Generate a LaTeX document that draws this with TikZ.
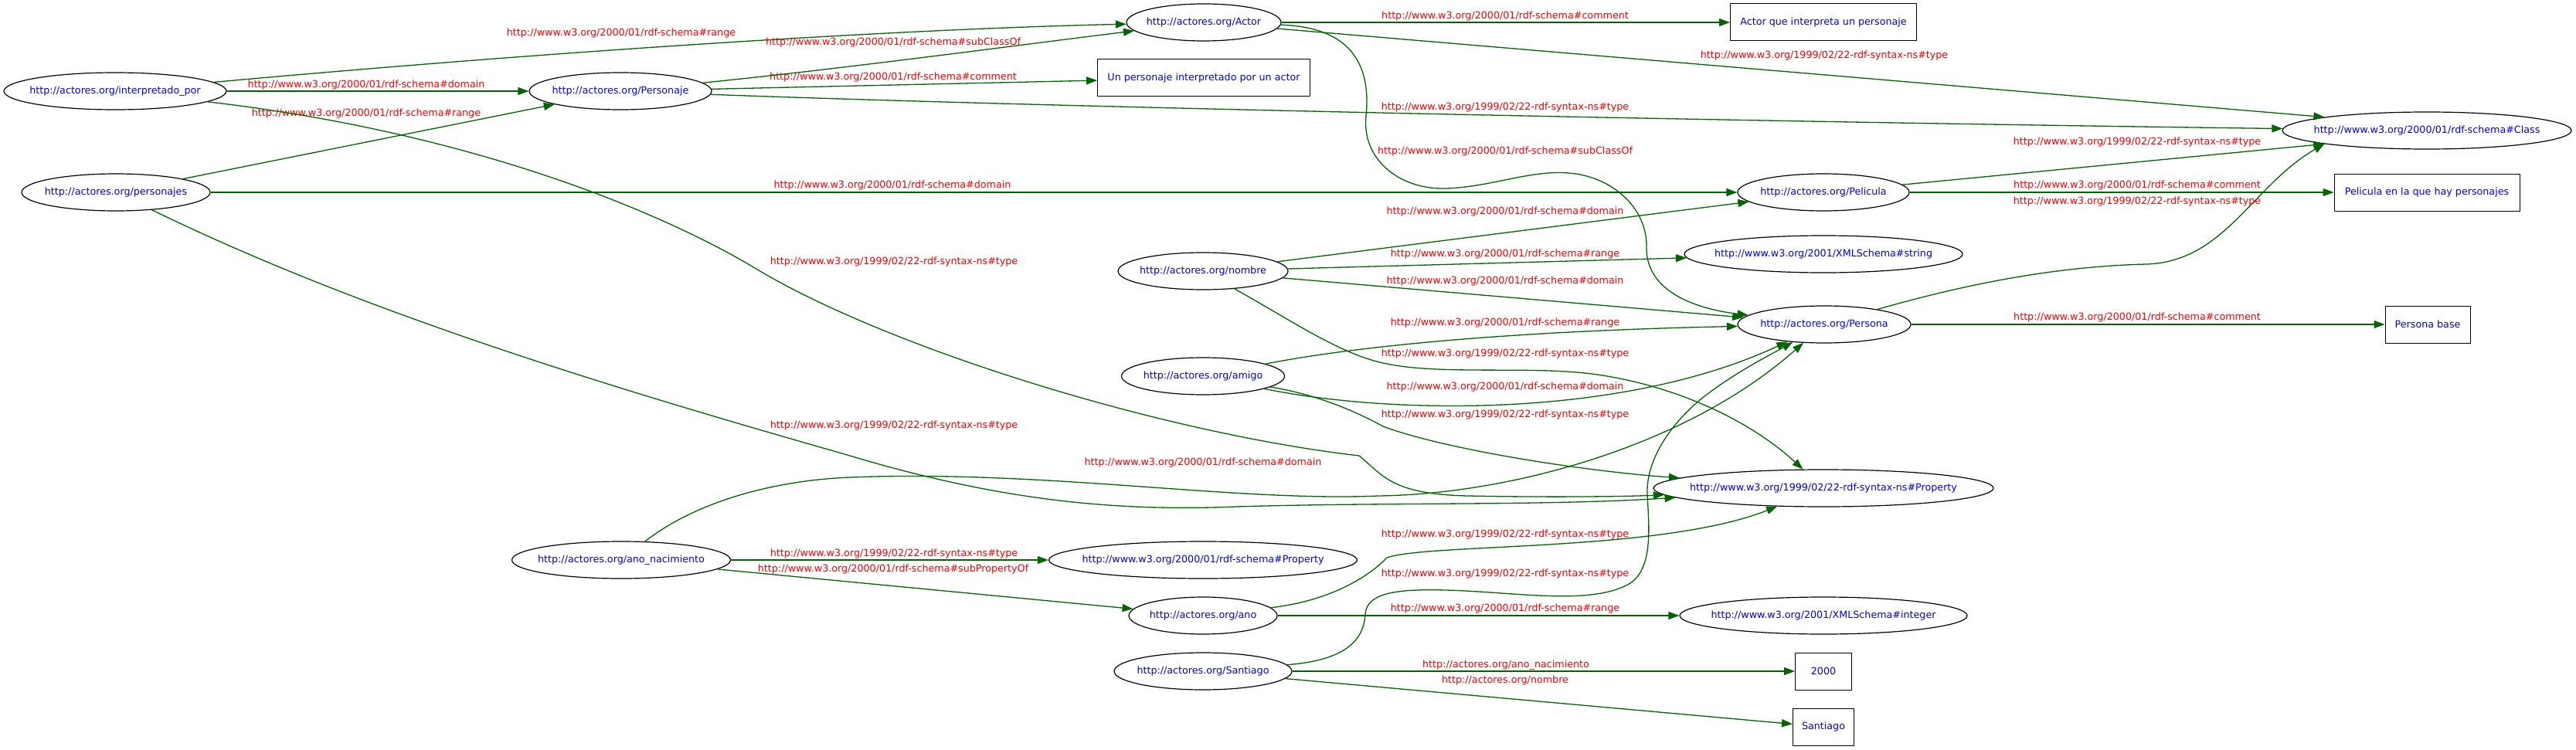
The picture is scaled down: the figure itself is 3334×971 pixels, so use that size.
\documentclass[tikz,border=0pt]{standalone}
\usepackage{fontspec}
\setmainfont{DejaVu Sans}
\usetikzlibrary{shapes.geometric,arrows.meta}

\definecolor{linkgreen}{RGB}{0,100,0}

\newcommand{\act}[1]{http://actores.org/#1}
\newcommand{\rdfsch}[1]{http://www.w3.org/2000/01/rdf-schema\##1}
\newcommand{\rdfsyn}[1]{http://www.w3.org/1999/02/22-rdf-syntax-ns\##1}
\newcommand{\xsdt}[1]{http://www.w3.org/2001/XMLSchema\##1}

\begin{document}
\begin{tikzpicture}[x=1pt,y=-1pt,
    font=\fontsize{12.7}{15}\selectfont,
    res/.style={ellipse,draw,line width=1.2pt,inner sep=0pt,minimum height=48pt,text=blue},
    lit/.style={rectangle,draw,line width=1pt,inner sep=0pt,minimum height=48pt,text=blue},
    link/.style={draw=linkgreen,line width=1.3pt,-{Triangle[length=14pt,width=10pt]}},
    lbl/.style={text=red,inner sep=0pt}]
    \useasboundingbox (0,0) rectangle (3334,971);

    % resources
    \foreach \xname/\xx/\xy/\xw/\xtext in {%
        interp/149/118/288/\act{interpretado\_por},
        personaje/803/118/236/\act{Personaje},
        personajes/150/249/244/\act{personajes},
        actor/1558/29/200/\act{Actor},
        class/3141/169/374/\rdfsch{Class},
        pelicula/2360/249/222/\act{Pelicula},
        string/2360/329/360/\xsdt{string},
        nombre/1557/351/220/\act{nombre},
        amigo/1557/487/211/\act{amigo},
        persona/2361/420/224/\act{Persona},
        prop/2360/632/440/\rdfsyn{Property},
        anonac/804/725/283/\act{ano\_nacimiento},
        schemaprop/1557/725/399/\rdfsch{Property},
        ano/1557/797/192/\act{ano},
        santiago/1557/869/230/\act{Santiago},
        integer/2360/797/372/\xsdt{integer}}
    {%
    \node[res,minimum width=\xw pt] at (\xx,\xy) (\xname) {\makebox[0pt]{\xtext}};
    }%

    % literals
    \foreach \xname/\xx/\xy/\xw/\xtext in {%
        bactor/2360/29/241/Actor que interpreta un personaje,
        bpersonaje/1558/101/275/Un personaje interpretado por un actor,
        bpelicula/3141/249/240/Pelicula en la que hay personajes,
        bpersona/3142/420/110/Persona base,
        b2000/2360/869/73/2000,
        bsantiago/2360/941/79/Santiago}
    {%
    \node[lit,minimum width=\xw pt] at (\xx,\xy) (\xname) {\xtext};
    }%

    % straight connections
    \foreach \xa/\xb/\xlx/\xly/\xlab in {%
        interp/personaje/474/110/\rdfsch{domain},
        personajes/personaje/474/147/\rdfsch{range},
        personajes/pelicula/1155/240/\rdfsch{domain},
        personaje/bpersonaje/1156/100/\rdfsch{comment},
        actor/bactor/1948/21/\rdfsch{comment},
        actor/class.north west/2361/72/\rdfsyn{type},
        pelicula/class.south west/2766/184/\rdfsyn{type},
        pelicula/bpelicula/2766/240/\rdfsch{comment},
        persona/bpersona/2766/411/\rdfsch{comment},
        nombre/pelicula/1948/274/\rdfsch{domain},
        nombre/string/1948/329/\rdfsch{range},
        nombre/persona/1948/364/\rdfsch{domain},
        anonac/schemaprop/1157/717/\rdfsyn{type},
        anonac/ano/1156/737/\rdfsch{subPropertyOf},
        ano/integer/1948/788/\rdfsch{range},
        santiago/b2000/1949/861/\act{ano\_nacimiento},
        santiago/bsantiago/1948/881/\act{nombre}}
    {%
    \draw[link] (\xa) -- (\xb) node[lbl] at (\xlx,\xly) {\xlab};
    }%

    % curved connections
    \draw[link] (interp) .. controls (700,68) and (1150,38) .. (actor)
        node[lbl] at (804,43) {\rdfsch{range}};
    \draw[link] (personaje) .. controls (1100,88) and (1320,58) .. (actor)
        node[lbl] at (1156,55) {\rdfsch{subClassOf}};
    \draw[link] (personaje) .. controls (1400,140) and (2300,158) .. (class)
        node[lbl] at (1948,139) {\rdfsyn{type}};
    \draw[link] (actor) .. controls (1745,35) and (1775,80) .. (1768,150)
        .. controls (1762,205) and (1810,246) .. (1872,244)
        .. controls (1930,242) and (1980,220) .. (2030,224)
        .. controls (2085,228) and (2132,268) .. (2131,320)
        .. controls (2130,370) and (2180,398) .. (persona)
        node[lbl] at (1948,196) {\rdfsch{subClassOf}};
    \draw[link] (persona) .. controls (2530,372) and (2650,345) .. (2779,342)
        .. controls (2880,338) and (2915,240) .. (class.south west)
        node[lbl] at (2766,261) {\rdfsyn{type}};
    \draw[link] (interp) .. controls (600,170) and (850,270) .. (982,350)
        .. controls (1150,450) and (1500,560) .. (1759,590)
        .. controls (1790,615) and (1800,640) .. (1900,642)
        .. controls (2000,644) and (2100,643) .. (prop)
        node[lbl] at (1157,339) {\rdfsyn{type}};
    \draw[link] (personajes) .. controls (480,410) and (820,510) .. (1100,590)
        .. controls (1300,650) and (1450,662) .. (1600,656)
        .. controls (1800,650) and (2000,655) .. (prop)
        node[lbl] at (1157,551) {\rdfsyn{type}};
    \draw[link] (nombre) .. controls (1680,420) and (1740,462) .. (1800,472)
        .. controls (1870,485) and (1980,474) .. (2060,484)
        .. controls (2160,497) and (2260,540) .. (prop)
        node[lbl] at (1948,458) {\rdfsyn{type}};
    \draw[link] (amigo) .. controls (1720,455) and (1900,430) .. (persona)
        node[lbl] at (1948,418) {\rdfsch{range}};
    \draw[link] (amigo) .. controls (1800,537) and (2100,542) .. (persona)
        node[lbl] at (1948,501) {\rdfsch{domain}};
    \draw[link] (amigo) .. controls (1700,510) and (1750,530) .. (1790,552)
        .. controls (1870,582) and (2050,610) .. (prop)
        node[lbl] at (1948,537) {\rdfsyn{type}};
    \draw[link] (anonac) .. controls (900,650) and (1000,622) .. (1100,618)
        .. controls (1350,608) and (1600,650) .. (1784,642)
        .. controls (1950,640) and (2180,580) .. (persona)
        node[lbl] at (1557,599) {\rdfsch{domain}};
    \draw[link] (ano) .. controls (1720,778) and (1770,748) .. (1795,722)
        .. controls (1850,703) and (2150,715) .. (prop)
        node[lbl] at (1948,692) {\rdfsyn{type}};
    \draw[link] (santiago) .. controls (1740,855) and (1765,830) .. (1767,795)
        .. controls (1769,770) and (1800,762) .. (1870,764)
        .. controls (1960,766) and (2060,785) .. (2110,755)
        .. controls (2140,735) and (2134,680) .. (2132,640)
        .. controls (2130,590) and (2170,540) .. (2210,510)
        .. controls (2250,480) and (2290,460) .. (persona)
        node[lbl] at (1948,743) {\rdfsyn{type}};
\end{tikzpicture}
\end{document}
